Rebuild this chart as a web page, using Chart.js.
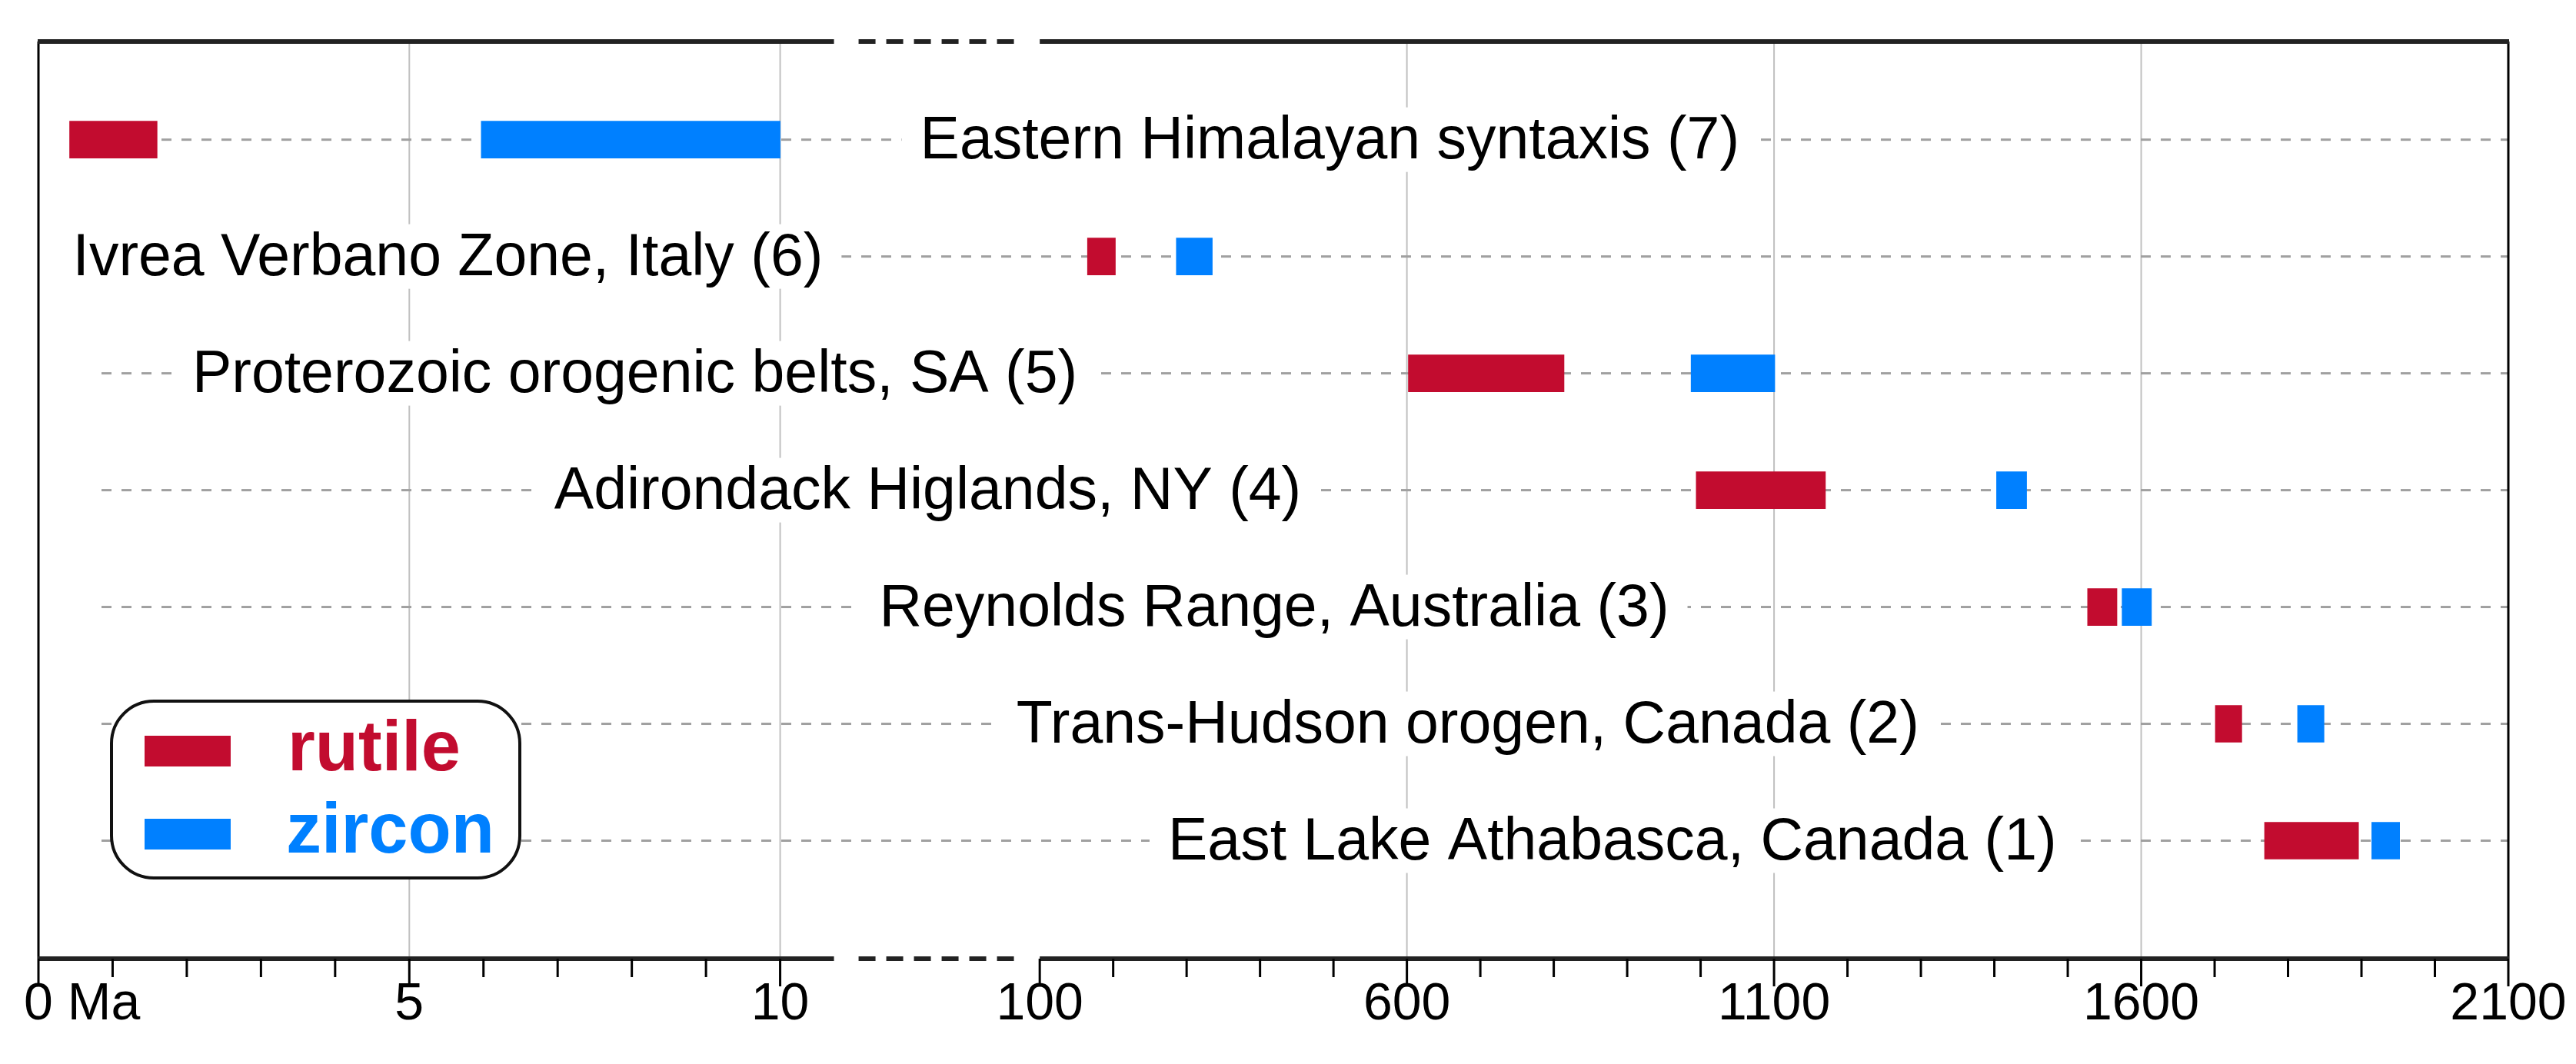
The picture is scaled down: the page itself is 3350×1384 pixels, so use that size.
<!DOCTYPE html>
<html><head><meta charset="utf-8">
<script src="https://cdn.jsdelivr.net/npm/chart.js@4"></script>
<style>html,body{margin:0;padding:0;background:#fff}#wrap{width:3350px;height:1384px}</style>
</head><body><div id="wrap"><canvas id="c" width="3350" height="1384"></canvas></div>
<script>
const categories = ["East Lake Athabasca, Canada (1)","Trans-Hudson orogen, Canada (2)","Reynolds Range, Australia (3)","Adirondack Higlands, NY (4)","Proterozoic orogenic belts, SA (5)","Ivrea Verbano Zone, Italy (6)","Eastern Himalayan syntaxis (7)"];
const rows = [1,2,3,4,5,6,7];
const rutileStart = [1768,1701,1527,994,602,165,0.42];
const rutileEnd   = [1896,1737,1567,1170,814,203,1.6];
const zirconStart = [1914,1813,1574,1403,987,286,5.97];
const zirconEnd   = [1952,1849,1614,1444,1101,335,10];
const tickValues = [0,5,10,100,600,1100,1600,2100];
const tickLabels = ["0 Ma","5","10","100","600","1100","1600","2100"];
const gridValues = [5,10,600,1100,1600];
const labelCentersU = [21.22,19.27,16.66,11.99,8.04,5.52,17.41];

// broken axis: 0-10 Ma linear, gap of 3.5 units, then 100-2100 Ma compressed
function toU(ma){ return ma<=10 ? ma : 13.5 + (ma-100)*0.0099; }

const RUT="#C20C2F", ZIR="#0080FF";
function mk(s,e){ return rows.map((r,i)=>({y:r, x:[toU(s[i]),toU(e[i])]})); }

const decor = {
  id:'decor',
  beforeDatasetsDraw(ch){
    const c=ch.ctx, a=ch.chartArea, xs=ch.scales.x, ys=ch.scales.y;
    c.save();
    c.strokeStyle="#c0c0c0"; c.lineWidth=2;
    gridValues.forEach(v=>{const x=xs.getPixelForValue(toU(v)); c.beginPath(); c.moveTo(x,a.top); c.lineTo(x,a.bottom); c.stroke();});
    c.strokeStyle="#a0a0a0"; c.lineWidth=3; c.setLineDash([13,13]);
    rows.forEach(r=>{const y=ys.getPixelForValue(r); c.beginPath(); c.moveTo(132,y); c.lineTo(a.right,y); c.stroke();});
    c.setLineDash([]);
    c.font="77px 'Liberation Sans', Arial, sans-serif"; c.textBaseline="middle"; c.textAlign="center";
    rows.forEach((r,i)=>{
      const y=ys.getPixelForValue(r), x=xs.getPixelForValue(labelCentersU[i]);
      const w=c.measureText(categories[i]).width;
      c.fillStyle="#fff"; c.fillRect(x-w/2-24,y-42,w+48,84);
      c.fillStyle="#000"; c.fillText(categories[i],x,y+3);
    });
    c.restore();
  },
  afterDraw(ch){
    const c=ch.ctx, a=ch.chartArea, xs=ch.scales.x;
    c.save();
    c.strokeStyle="#000";
    c.lineWidth=3;
    c.beginPath(); c.moveTo(a.left,a.top); c.lineTo(a.left,a.bottom); c.moveTo(a.right,a.top); c.lineTo(a.right,a.bottom); c.stroke();
    const x10=xs.getPixelForValue(10), x100=xs.getPixelForValue(13.5);
    c.strokeStyle="#222"; c.lineWidth=6;
    [a.top,a.bottom].forEach(y=>{
      c.beginPath(); c.moveTo(a.left-1,y); c.lineTo(x10+70,y); c.moveTo(x100,y); c.lineTo(a.right+1,y); c.stroke();
      c.setLineDash([22,14]); c.beginPath(); c.moveTo(x10+102,y); c.lineTo(x100-26,y); c.stroke(); c.setLineDash([]);
    });
    c.lineWidth=3; c.strokeStyle="#000";
    const minor=[]; for(let i=1;i<10;i++) if(i!==5) minor.push(i);
    for(let v=200;v<2100;v+=100) if(v%500!==100) minor.push(v);
    minor.forEach(v=>{const x=xs.getPixelForValue(toU(v)); c.beginPath(); c.moveTo(x,a.bottom); c.lineTo(x,a.bottom+24); c.stroke();});
    tickValues.forEach(v=>{const x=xs.getPixelForValue(toU(v)); c.beginPath(); c.moveTo(x,a.bottom); c.lineTo(x,a.bottom+36); c.stroke();});
    c.fillStyle="#000"; c.font="68px 'Liberation Sans', Arial, sans-serif"; c.textBaseline="alphabetic";
    tickValues.forEach((v,i)=>{
      const x=xs.getPixelForValue(toU(v));
      if(i===0){ c.textAlign="left"; const w0=c.measureText("0").width; c.fillText(tickLabels[i],x-w0/2,1326); }
      else { c.textAlign="center"; c.fillText(tickLabels[i],x,1326); }
    });
    // legend
    const L=145,T=912,W=531,H=230,R=55;
    c.beginPath(); c.roundRect(L,T,W,H,R); c.fillStyle="#fff"; c.fill(); c.lineWidth=4; c.strokeStyle="#111"; c.stroke();
    c.fillStyle=RUT; c.fillRect(188,957,112,40);
    c.fillStyle=ZIR; c.fillRect(188,1065,112,40);
    c.font="bold 92px 'Liberation Sans', Arial, sans-serif"; c.textAlign="left";
    c.fillStyle=RUT; c.fillText("rutile",374,1002);
    c.fillStyle=ZIR; c.fillText("zircon",372,1109);
    c.restore();
  }
};

new Chart(document.getElementById('c'),{
  type:'bar',
  data:{datasets:[
    {label:'rutile',data:mk(rutileStart,rutileEnd),backgroundColor:RUT,barThickness:48,grouped:false},
    {label:'zircon',data:mk(zirconStart,zirconEnd),backgroundColor:ZIR,barThickness:48,grouped:false}
  ]},
  options:{
    indexAxis:'y', responsive:false, animation:false, devicePixelRatio:1,
    layout:{padding:{left:50,right:88,top:54,bottom:137}},
    plugins:{legend:{display:false},tooltip:{enabled:false}},
    scales:{
      x:{type:'linear',min:0,max:toU(2100),display:false},
      y:{type:'linear',min:-0.01,max:7.84,display:false,offset:false}
    }
  },
  plugins:[decor]
});
</script></body></html>
